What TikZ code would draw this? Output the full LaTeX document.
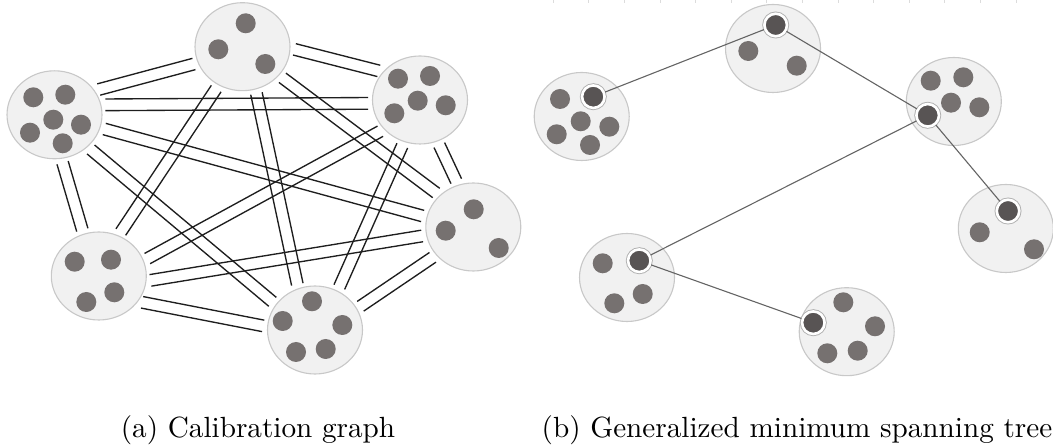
\documentclass[tikz,border=0pt]{standalone}
\usetikzlibrary{calc,shapes.geometric}

\definecolor{blobfill}{RGB}{241,241,241}
\definecolor{blobline}{RGB}{200,200,200}
\definecolor{dotfill}{RGB}{118,113,112}
\definecolor{hubfill}{RGB}{88,84,84}
\definecolor{hubhalo}{RGB}{175,175,175}
\definecolor{railline}{RGB}{30,30,30}
\definecolor{treeline}{RGB}{100,100,100}
\definecolor{tickline}{RGB}{220,220,220}

% one drawing unit = 0.3425pt
\newlength\px \setlength\px{0.3425pt}

\tikzset{
  blob/.style={ellipse, fill=blobfill, draw=blobline, line width=1.1*\px,
    minimum width=95*\px, minimum height=88*\px, inner sep=0pt},
  dot/.style={circle, fill=dotfill, minimum size=20*\px, inner sep=0pt},
  hub/.style={circle, fill=hubfill, draw=white, line width=2.6*\px,
    minimum size=22.5*\px, inner sep=0pt,
    preaction={draw=hubhalo, line width=4.4*\px}},
  rail/.style={draw=railline, line width=1.35*\px, shorten <=4*\px, shorten >=4*\px},
  treeedge/.style={draw=treeline, line width=1.1*\px},
  tick/.style={draw=tickline, line width=1*\px},
  caption/.style={anchor=base, inner sep=0pt}
}

% a pair of parallel rails between two border points
\newcommand\twin[2]{%
  \draw[rail] ($(#1)!2pt!90:(#2)$) -- ($(#2)!2pt!-90:(#1)$);
  \draw[rail] ($(#1)!2pt!-90:(#2)$) -- ($(#2)!2pt!90:(#1)$);}

\begin{document}
\begin{tikzpicture}[x=0.3425pt, y=-0.3425pt]
\useasboundingbox (0,0) rectangle (1053,446);

% ---------------- (a) calibration graph ----------------
\node[blob] (A) at (242.5,46.7) {};
\node[blob] (B) at (54.5,114.8) {};
\node[blob] (C) at (420,100) {};
\node[blob] (D) at (473.3,227) {};
\node[blob] (E) at (98.8,276) {};
\node[blob] (F) at (315,330) {};

\node[dot] (a1) at (245.7,23.3) {};
\node[dot] (a2) at (218.3,49.3) {};
\node[dot] (a3) at (265.3,64) {};

\node[dot] (b1) at (33.3,97.3) {};
\node[dot] (b2) at (65.3,94.7) {};
\node[dot] (b3) at (53.3,119.7) {};
\node[dot] (b4) at (81,124.7) {};
\node[dot] (b5) at (30,132.7) {};
\node[dot] (b6) at (62.7,143.3) {};

\node[dot] (c1) at (398,78.7) {};
\node[dot] (c2) at (430,76) {};
\node[dot] (c3) at (417.7,100.7) {};
\node[dot] (c4) at (445.7,105.3) {};
\node[dot] (c5) at (394.3,113.3) {};

\node[dot] (d1) at (473.7,209.3) {};
\node[dot] (d2) at (445.7,230.7) {};
\node[dot] (d3) at (498.7,248) {};

\node[dot] (e1) at (74.7,261.7) {};
\node[dot] (e2) at (111,259.7) {};
\node[dot] (e3) at (114.3,292.3) {};
\node[dot] (e4) at (86.3,302) {};

\node[dot] (f1) at (312,301.3) {};
\node[dot] (f2) at (282.7,321) {};
\node[dot] (f3) at (342.3,325) {};
\node[dot] (f4) at (296,352) {};
\node[dot] (f5) at (325.7,349) {};

% every pair of clusters is joined
\twin{A.200}{B.31}
\twin{A.-2}{C.143}
\twin{B.12}{C.184}
\twin{A.-38}{D.137}
\twin{B.-16}{D.168}
\twin{A.238}{E.64}
\twin{A.-73}{F.112}
\twin{B.-81}{E.110}
\twin{B.-44}{F.147}
\twin{C.-67}{D.110}
\twin{C.219}{E.19}
\twin{C.249}{F.60}
\twin{D.190}{E.-6}
\twin{D.217}{F.27}
\twin{E.-33}{F.176}

% ---------------- (b) generalized minimum spanning tree ----------------
\foreach \t in {0,...,13}
  \draw[tick] (553.3+35.6*\t,0) -- (553.3+35.6*\t,2.8);

\node[blob] (A2) at (773,48.5) {};
\node[blob] (B2) at (581.7,116.5) {};
\node[blob] (C2) at (953.8,101.5) {};
\node[blob] (D2) at (1005.8,228.5) {};
\node[blob] (E2) at (627,277.5) {};
\node[blob] (F2) at (846.7,331.7) {};

\node[dot] (ta2) at (748.3,51) {};
\node[dot] (ta3) at (796.7,65.7) {};

\node[dot] (tb1) at (560,99) {};
\node[dot] (tb3) at (580.7,121.3) {};
\node[dot] (tb4) at (609.3,126.7) {};
\node[dot] (tb5) at (556.7,134.3) {};
\node[dot] (tb6) at (590,145) {};

\node[dot] (tc1) at (930.7,80.7) {};
\node[dot] (tc2) at (963.3,77.3) {};
\node[dot] (tc3) at (951,102.7) {};
\node[dot] (tc4) at (979.3,107.3) {};

\node[dot] (td2) at (979.7,232.3) {};
\node[dot] (td3) at (1034,249.3) {};

\node[dot] (te1) at (602.7,263.3) {};
\node[dot] (te3) at (642.7,294) {};
\node[dot] (te4) at (614.3,303.3) {};

\node[dot] (tf1) at (843.3,302.3) {};
\node[dot] (tf3) at (875,326.3) {};
\node[dot] (tf4) at (827.3,353.3) {};
\node[dot] (tf5) at (857.7,350.7) {};

% chosen representatives
\node[hub] (ha) at (775.7,25) {};
\node[hub] (hb) at (593.3,96.7) {};
\node[hub] (hc) at (927.7,115.3) {};
\node[hub] (hd) at (1008,211) {};
\node[hub] (he) at (639.3,260.7) {};
\node[hub] (hf) at (813.3,322.7) {};

\draw[treeedge] (hb) -- (ha);
\draw[treeedge] (ha) -- (hc);
\draw[treeedge] (hc) -- (hd);
\draw[treeedge] (hc) -- (he);
\draw[treeedge] (he) -- (hf);

% ---------------- captions ----------------
\node[caption] (capa) at (258,437.5) {(a) Calibration graph};
\node[caption] (capb) at (797,437.5) {(b) Generalized minimum spanning tree};
\end{tikzpicture}
\end{document}
